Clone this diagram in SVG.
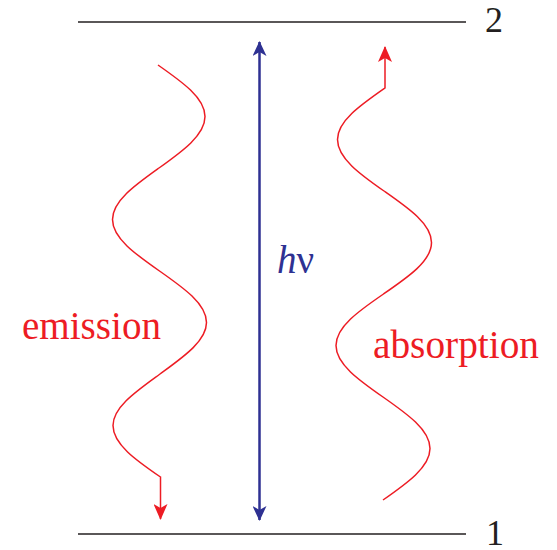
<svg xmlns="http://www.w3.org/2000/svg" width="557" height="550" viewBox="0 0 557 550">
<style>
.lvl{stroke:#231f20;stroke-width:1.5;fill:none}
.wave{stroke:#ed1c24;stroke-width:1.5;fill:none}
.lbl{font-family:"Liberation Serif","Times New Roman",serif;font-size:39px}
.num{font-family:"Liberation Serif","Times New Roman",serif;font-size:36px}
.red{fill:#ed1c24}
.blk{fill:#231f20}
</style>
<defs>
<marker id="ahR" viewBox="0 0 16 14" refX="15" refY="7" markerWidth="16" markerHeight="14" markerUnits="userSpaceOnUse" orient="auto">
<path d="M0,0 L16,7 L0,14 L4,7 Z" fill="#ed1c24"/>
</marker>
<marker id="ahB" viewBox="0 0 15 14" refX="14" refY="7" markerWidth="15" markerHeight="14" markerUnits="userSpaceOnUse" orient="auto">
<path d="M0,0 L15,7 L0,14 L4,7 Z" fill="#2e3192"/>
</marker>
</defs>
<g id="level2">
<line class="lvl" x1="78" y1="22" x2="466" y2="22"/>
<text class="num blk" x="485" y="32">2</text>
</g>
<g id="level1">
<line class="lvl" x1="78" y1="534" x2="466" y2="534"/>
<text class="num blk" x="486" y="545">1</text>
</g>
<g id="connectors">
<line x1="259.5" y1="520" x2="259.5" y2="42" stroke="#2e3192" stroke-width="2" marker-end="url(#ahB)"/>
<line x1="259.5" y1="42" x2="259.5" y2="520" stroke="#2e3192" stroke-width="2" marker-end="url(#ahB)"/>
<path class="wave" marker-end="url(#ahR)" d="M158,65 C182,81.8 205,97.9 205,116.5 S182.5,151.2 159,168 S112.5,200.9 112.5,219.5 S135.5,254.2 159.5,271 S206.5,303.9 206.5,322.5 S183,357.2 160,374 S113,406.9 113,425.5 S136,460.2 160.5,477 L160.5,519"/>
<path class="wave" marker-end="url(#ahR)" d="M383,500 C407,483.2 430,467.1 430,448.5 S407,413.8 383,397 S336,364.1 336,345.5 S359,310.8 383.5,294 S431.5,261.1 431.5,242.5 S408,207.8 384,191 S337.5,158.1 337.5,139.5 S361,104.8 385,88 L385,47"/>
</g>
<g id="hv">
<text class="lbl" x="277" y="273" font-size="42" fill="#2e3192"><tspan font-style="italic">h</tspan>ν</text>
</g>
<g id="emission">
<text class="lbl red" x="22" y="339" textLength="139" lengthAdjust="spacingAndGlyphs">emission</text>
</g>
<g id="absorption">
<text class="lbl red" x="373" y="358" textLength="166" lengthAdjust="spacingAndGlyphs">absorption</text>
</g>
</svg>
